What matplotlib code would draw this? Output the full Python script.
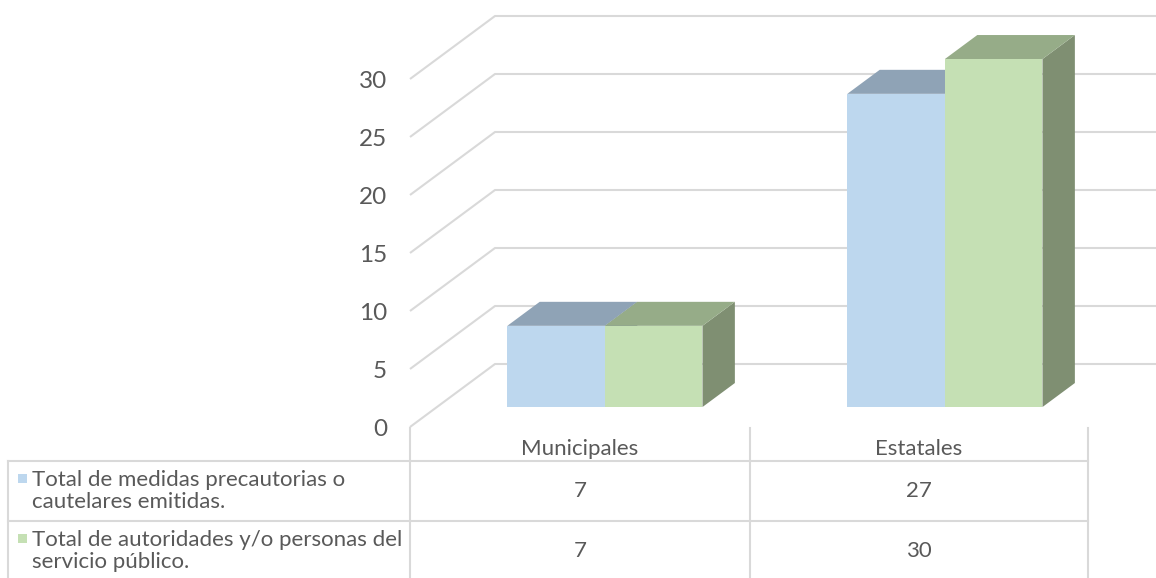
import numpy as np
import matplotlib
matplotlib.use("Agg")
import matplotlib.pyplot as plt
from matplotlib.patches import Polygon

plt.rcParams['font.family'] = ['Lato', 'DejaVu Sans']

# datos
categorias = ['Municipales', 'Estatales']
serie_medidas = [7, 27]
serie_autoridades = [7, 30]
nombres_series = ['Total de medidas precautorias o\ncautelares emitidas.',
                  'Total de autoridades y/o personas del\nservicio público.']
ticks_y = [0, 5, 10, 15, 20, 25, 30]

col_front = ['#BDD7EE', '#C5E0B4']
col_top = ['#8FA3B6', '#96AC88']
col_side = ['#7F94A8', '#7F8F72']
gris = '#D9D9D9'
texto = '#595959'

W, H = 1156, 578
fig = plt.figure(figsize=(W / 100, H / 100), dpi=100)

# geometria en pixeles
px_unit = 11.6          # pixeles por unidad de valor
y0_front = 427          # pixel del 0 en el frente
x0_front = 408
cat_px = 340            # ancho de una categoria
DX, DV = 85 / cat_px, 63 / px_unit   # profundidad del "piso"
f0, fb = 0.317, 0.381   # posicion y grosor de la barra en profundidad
wbar = 0.287

ax = fig.add_axes([x0_front / W, 0, 1 - x0_front / W, 1])
ax.set_xlim((x0_front - 410) / cat_px, (W - 410) / cat_px)
ax.set_ylim(-(H - y0_front) / px_unit, y0_front / px_unit)
for s in ax.spines.values():
    s.set_visible(False)
ax.set_xticks([])
ax.set_yticks(ticks_y)
ax.set_yticklabels([str(t) for t in ticks_y], fontsize=17.5, color=texto)
ax.tick_params(axis='y', length=0, pad=15)

xr = (W - 410) / cat_px
for t in ticks_y:
    ax.plot([0, DX, xr], [t, t + DV, t + DV], color=gris, lw=1.5, zorder=1,
            solid_capstyle='butt')

series = [serie_medidas, serie_autoridades]
for i in range(len(categorias)):
    for k, vals in enumerate(series):
        v = vals[i]
        x0 = i + 0.5 - wbar + k * wbar + f0 * DX - 0.006
        x1 = x0 + wbar
        b = f0 * DV
        tp = b + v
        dx, dv = fb * DX, fb * DV
        ax.add_patch(Polygon([(x1, b), (x1 + dx, b + dv), (x1 + dx, tp + dv), (x1, tp)],
                             closed=True, fc=col_side[k], ec='none', zorder=2 + k))
        ax.add_patch(Polygon([(x0, tp), (x1, tp), (x1 + dx, tp + dv), (x0 + dx, tp + dv)],
                             closed=True, fc=col_top[k], ec='none', zorder=2 + k))
        ax.add_patch(Polygon([(x0, b), (x1, b), (x1, tp), (x0, tp)],
                             closed=True, fc=col_front[k], ec='none', zorder=2 + k))

# tabla de datos (coordenadas en pixeles)
tb = fig.add_axes([0, 0, 1, 1])
tb.set_xlim(0, W)
tb.set_ylim(H, 0)
tb.axis('off')
tb.patch.set_alpha(0)

lw = 1.5
col_x = [410, 750, 1088]
for x in col_x:
    tb.plot([x, x], [428, H], color=gris, lw=lw)
tb.plot([8, 8], [461, H], color=gris, lw=lw)
for y in [461, 521]:
    tb.plot([8, 1088], [y, y], color=gris, lw=lw)

fs = 16
for i, c in enumerate(categorias):
    xc = (col_x[i] + col_x[i + 1]) / 2
    tb.text(xc, 449, c, ha='center', va='center', fontsize=fs, color=texto)

filas_y = [491, 551]
for k, nombre in enumerate(nombres_series):
    y = filas_y[k]
    tb.add_patch(plt.Rectangle((18, y - 17), 9, 9, fc=col_front[k], ec='none'))
    tb.text(32, y, nombre, ha='left', va='center', fontsize=fs, color=texto,
            linespacing=1.12)
    for i in range(len(categorias)):
        xc = (col_x[i] + col_x[i + 1]) / 2
        tb.text(xc, y, str(series[k][i]), ha='center', va='center',
                fontsize=fs, color=texto)

fig.savefig('out.png', dpi=100)
